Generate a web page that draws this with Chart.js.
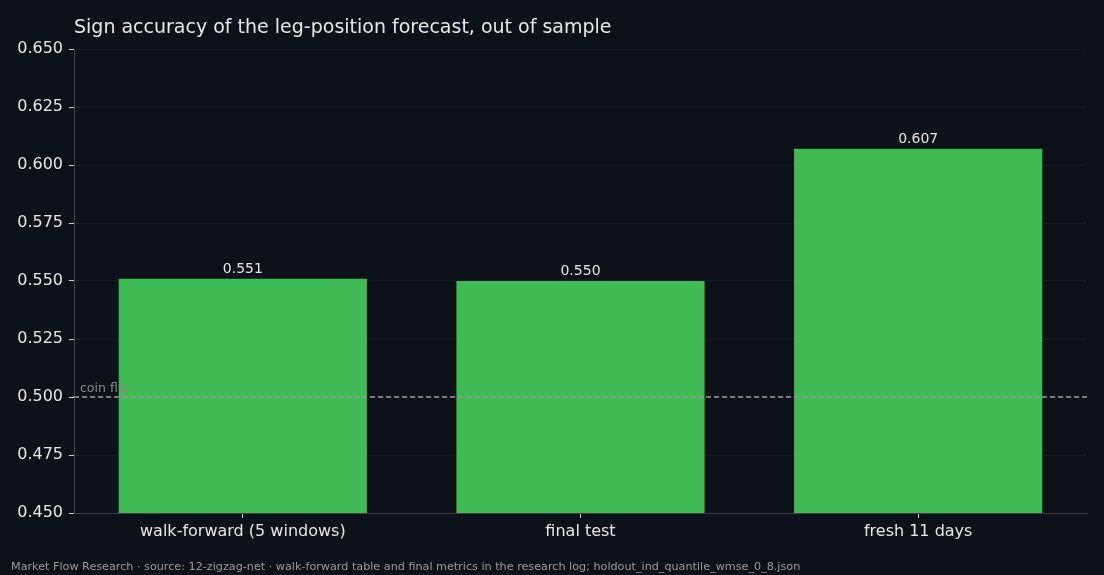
<!DOCTYPE html>
<html>
<head>
<meta charset="utf-8">
<script src="https://cdn.jsdelivr.net/npm/chart.js@4"></script>
<style>
html,body{margin:0;padding:0;background:#0d1119;}
#wrap{width:1104px;height:575px;position:relative;}
</style>
</head>
<body>
<div id="wrap"><canvas id="c" width="1104" height="575"></canvas></div>
<script>
const categories = ["walk-forward (5 windows)", "final test", "fresh 11 days"];
const accuracy = [0.551, 0.550, 0.607];
const valueLabels = ["0.551", "0.550", "0.607"];
const coinFlip = 0.5;
const yTicks = [0.450, 0.475, 0.500, 0.525, 0.550, 0.575, 0.600, 0.625, 0.650];
const titleText = "Sign accuracy of the leg-position forecast, out of sample";
const footerText = "Market Flow Research · source: 12-zigzag-net · walk-forward table and final metrics in the research log; holdout_ind_quantile_wmse_0_8.json";

const FONT = "'DejaVu Sans', sans-serif";

const overlay = {
  id: 'overlay',
  beforeDraw(chart){
    const ctx = chart.ctx;
    ctx.save();
    ctx.fillStyle = '#0d1119';
    ctx.fillRect(0,0,chart.width,chart.height);
    ctx.restore();
  },
  afterDatasetsDraw(chart){
    const ctx = chart.ctx;
    const ys = chart.scales.y;
    const area = chart.chartArea;
    ctx.save();
    // coin flip line
    const y = ys.getPixelForValue(coinFlip);
    ctx.strokeStyle = '#9a9a9a';
    ctx.lineWidth = 1.3;
    ctx.setLineDash([5,3]);
    ctx.beginPath();
    ctx.moveTo(area.left, y);
    ctx.lineTo(area.right, y);
    ctx.stroke();
    ctx.setLineDash([]);
    ctx.fillStyle = '#8a8a8a';
    ctx.font = "12.5px " + FONT;
    ctx.textAlign = 'left';
    ctx.textBaseline = 'alphabetic';
    ctx.fillText('coin flip', area.left + 6, y - 5);
    // value labels
    const meta = chart.getDatasetMeta(0);
    ctx.fillStyle = '#e6e6e6';
    ctx.font = "14px " + FONT;
    ctx.textAlign = 'center';
    meta.data.forEach((bar, i) => {
      ctx.fillText(valueLabels[i], bar.x, bar.y - 6);
    });
    // title
    ctx.fillStyle = '#e8e8e8';
    ctx.font = "19px " + FONT;
    ctx.textAlign = 'left';
    ctx.fillText(titleText, area.left, 33);
    // footer
    ctx.fillStyle = '#9a9a9a';
    ctx.font = "11.2px " + FONT;
    ctx.fillText(footerText, 11, 570);
    ctx.restore();
  }
};

new Chart(document.getElementById('c'), {
  type: 'bar',
  data: {
    labels: categories,
    datasets: [{
      data: accuracy,
      backgroundColor: '#3fba55',
      borderWidth: 0,
      barPercentage: 0.735,
      categoryPercentage: 1.0
    }]
  },
  options: {
    responsive: false,
    animation: false,
    devicePixelRatio: 1,
    layout: { padding: { top: 49, right: 17, left: 0, bottom: 0 } },
    plugins: { legend: { display: false }, tooltip: { enabled: false }, title: { display: false } },
    scales: {
      x: {
        afterFit(s){ s.height = 62; },
        grid: { display: true, offset: false, drawOnChartArea: false, drawTicks: true, tickLength: 5, tickColor: '#d0d0d0', color: '#d0d0d0' },
        border: { display: true, color: '#3a3e47', width: 1 },
        ticks: { color: '#e6e6e6', font: { family: FONT, size: 16 }, padding: 4 }
      },
      y: {
        min: 0.45, max: 0.65,
        afterFit(s){ s.width = 74; },
        afterBuildTicks(s){ s.ticks = yTicks.map(v => ({ value: v })); },
        grid: { color: '#171b24', lineWidth: 1, drawTicks: true, tickLength: 5, tickColor: '#d0d0d0' },
        border: { display: true, color: '#3a3e47', width: 1 },
        ticks: { color: '#e6e6e6', font: { family: FONT, size: 16 }, padding: 6,
                 callback: (v) => Number(v).toFixed(3) }
      }
    }
  },
  plugins: [overlay]
});
</script>
</body>
</html>
